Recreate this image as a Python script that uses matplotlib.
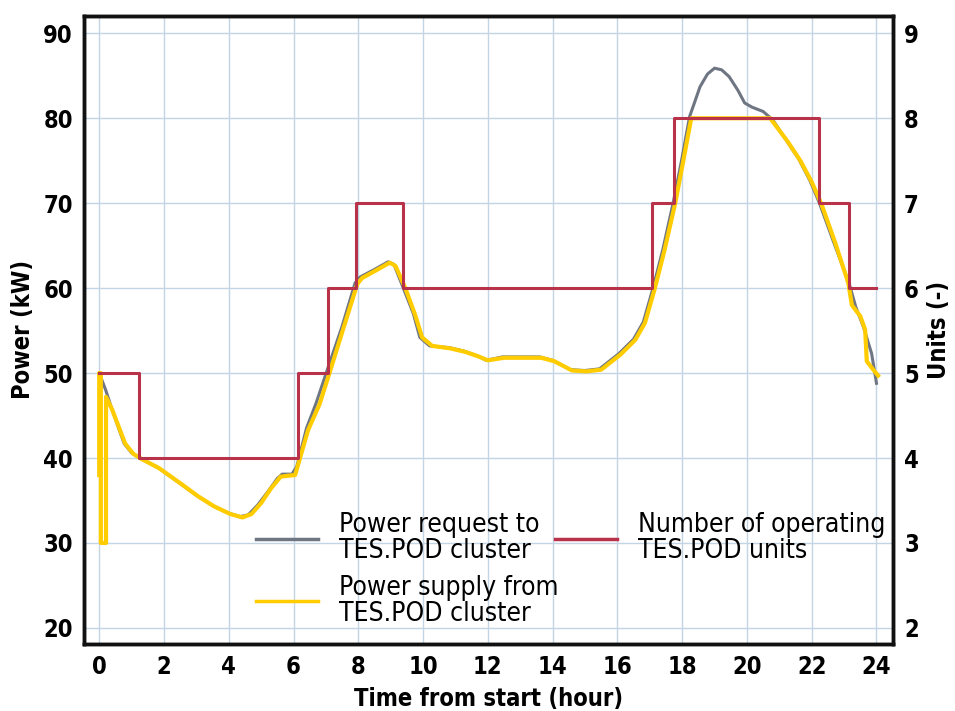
import matplotlib
matplotlib.use("Agg")
import matplotlib.pyplot as plt
from matplotlib.lines import Line2D

FONT = ['DejaVu Sans', 'Liberation Sans']
plt.rcParams['font.family'] = FONT
plt.rcParams['font.stretch'] = 'condensed'

# Power request to TES.POD cluster (hour, kW)
req_t = [0.0, 0.2, 0.37, 0.6, 0.77, 1.0, 1.25, 1.8, 2.5, 3.0, 3.5, 4.0, 4.35, 4.6, 4.9, 5.2,
         5.5, 5.65, 5.95, 6.1, 6.2, 6.4, 6.7, 7.07, 7.5, 7.9, 8.05, 8.5, 8.92, 9.1, 9.38,
         9.7, 9.9, 10.2, 10.8, 11.25, 11.7, 11.95, 12.45, 13.0, 13.6, 14.0, 14.55, 15.0,
         15.45, 16.05, 16.5, 16.8, 17.1, 17.4, 17.72, 17.98, 18.23, 18.55, 18.78, 19.0,
         19.22, 19.45, 19.72, 19.93, 20.16, 20.5, 20.8, 21.2, 21.6, 21.94, 22.24, 22.66,
         23.16, 23.36, 23.6, 23.85, 24.0]
req_kw = [50.0, 48.0, 46.0, 43.5, 41.7, 40.6, 40.0, 38.9, 37.0, 35.6, 34.4, 33.5, 33.1, 33.3,
          34.5, 36.0, 37.6, 38.1, 38.1, 39.0, 40.5, 43.5, 46.5, 50.7, 55.5, 60.6, 61.3, 62.2,
          63.1, 62.8, 60.1, 57.0, 54.2, 53.2, 53.0, 52.6, 52.0, 51.5, 51.9, 51.9, 51.9, 51.5,
          50.4, 50.3, 50.5, 52.3, 54.0, 56.0, 60.0, 64.5, 70.0, 75.0, 80.2, 83.7, 85.2, 85.9,
          85.7, 84.9, 83.3, 81.8, 81.3, 80.8, 79.8, 77.5, 75.2, 72.7, 70.0, 65.6, 60.5, 57.8,
          55.4, 52.3, 48.8]

# Power supply from TES.POD cluster (hour, kW)
sup_t = [0.0, 0.0, 0.05, 0.05, 0.21, 0.21, 0.4, 0.8, 1.05, 1.3, 1.85, 2.55, 3.05, 3.55, 4.05,
         4.42, 4.7, 5.0, 5.3, 5.6, 5.8, 6.05, 6.2, 6.45, 6.8, 7.15, 7.55, 7.97, 8.12, 8.55,
         8.97, 9.15, 9.45, 9.75, 9.97, 10.28, 10.85, 11.3, 11.75, 12.0, 12.5, 13.05, 13.65,
         14.05, 14.6, 15.05, 15.5, 16.1, 16.55, 16.85, 17.15, 17.45, 17.78, 18.03, 18.28,
         20.72, 21.25, 21.65, 22.0, 22.3, 22.72, 23.13, 23.24, 23.5, 23.65, 23.7, 23.9, 24.05]
sup_kw = [38.0, 50.0, 50.0, 30.0, 30.0, 47.2, 45.7, 41.7, 40.5, 39.9, 38.8, 36.9, 35.5, 34.3,
          33.4, 33.0, 33.4, 34.7, 36.4, 37.8, 37.9, 38.0, 40.0, 43.3, 46.3, 50.5, 55.4, 60.5,
          61.2, 62.1, 63.0, 62.6, 60.0, 56.9, 54.2, 53.2, 52.9, 52.5, 51.9, 51.5, 51.8, 51.8,
          51.8, 51.4, 50.3, 50.2, 50.4, 52.2, 53.9, 55.9, 59.9, 64.4, 69.9, 74.9, 80.0, 80.0,
          77.3, 75.0, 72.5, 69.9, 65.4, 60.6, 58.0, 56.7, 55.1, 51.4, 50.4, 49.7]

# Number of operating TES.POD units (step changes)
unit_t = [0.0, 1.23, 6.14, 7.07, 7.93, 9.39, 17.07, 17.74, 22.23, 23.16, 24.0]
unit_n = [5, 4, 5, 6, 7, 6, 7, 8, 7, 6, 6]

x_ticks = list(range(0, 25, 2))
left_ticks = [20, 30, 40, 50, 60, 70, 80, 90]
right_ticks = [2, 3, 4, 5, 6, 7, 8, 9]

GRAY = '#6e7583'
YELLOW = '#ffcc00'
RED = '#b83249'
GRID = '#c3d4e4'

fig = plt.figure(figsize=(9.55, 7.11), dpi=100)
ax = fig.add_axes([84/955, 1-643.5/711, (893-84)/955, (643.5-15.5)/711])
ax2 = ax.twinx()

ax.set_xlim(-0.47, 24.51)
ax.set_ylim(18.16, 92.1)
ax2.set_ylim(1.816, 9.21)

ax.set_xticks(x_ticks)
ax.set_yticks(left_ticks)
ax2.set_yticks(right_ticks)
ax.grid(True, color=GRID, linewidth=1.0)
ax.set_axisbelow(True)

ax.plot(req_t, req_kw, color=GRAY, linewidth=2.2, zorder=3)
ax.plot(sup_t, sup_kw, color=YELLOW, linewidth=3.0, zorder=4)
ax2.step(unit_t, unit_n, where='post', color=RED, linewidth=2.2, zorder=5)

tfs = 17
for a in (ax, ax2):
    a.tick_params(length=0, labelsize=tfs, pad=8)
    for lab in a.get_xticklabels() + a.get_yticklabels():
        lab.set_fontweight('bold')
    for s in a.spines.values():
        s.set_linewidth(2.5)
        s.set_color('#111111')

ax.set_xlabel('Time from start (hour)', fontsize=tfs, fontweight='bold', labelpad=6)
ax.set_ylabel('Power (kW)', fontsize=tfs, fontweight='bold', labelpad=6)
ax2.set_ylabel('Units (-)', fontsize=tfs, fontweight='bold', labelpad=6)

handles = [Line2D([], [], color=GRAY, linewidth=2.5),
           Line2D([], [], color=YELLOW, linewidth=2.5),
           Line2D([], [], color=RED, linewidth=2.5)]
labels = ['Power request to\nTES.POD cluster', 'Power supply from\nTES.POD cluster',
          'Number of operating\nTES.POD units']
lfs = 19
leg = ax2.legend(handles, labels, ncol=2, frameon=False, fontsize=lfs,
                 handlelength=2.35, handletextpad=0.8, columnspacing=-0.15, labelspacing=0.4,
                 loc='upper left', bbox_to_anchor=(256/955, 1-512/711),
                 bbox_transform=fig.transFigure, borderaxespad=0, borderpad=0)
for t in leg.get_texts():
    t.set_linespacing(1.0)

fig.savefig('out.png', dpi=100)
